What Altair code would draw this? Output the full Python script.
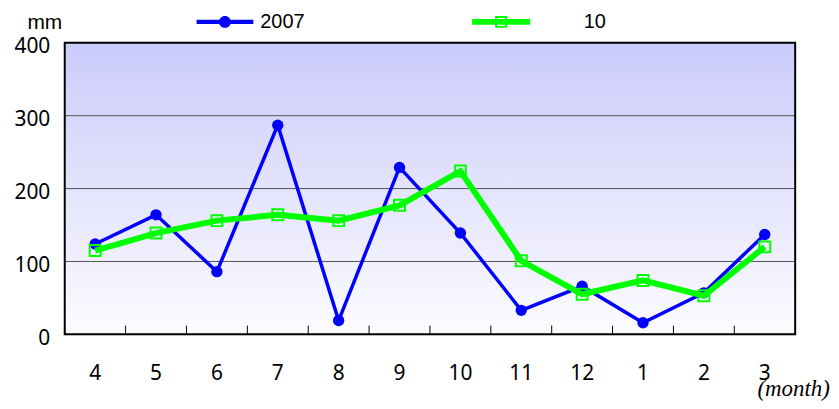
import altair as alt
import pandas as pd

MONTHS = ["4", "5", "6", "7", "8", "9", "10", "11", "12", "1", "2", "3"]
SERIES = ["2007", "10"]
VALUES_2007 = [124, 164, 86, 287, 19, 229, 139, 33, 66, 16, 57, 137]
VALUES_10 = [115, 139, 156, 164, 156, 177, 224, 101, 55, 74, 53, 120]
Y_TICKS = [0, 100, 200, 300, 400]
GRID = [100, 200, 300]

W, H = 734, 293
FONT = "Noto Sans"
TOPFONT = "Liberation Sans"

rows = []
for s, vals in zip(SERIES, [VALUES_2007, VALUES_10]):
    for m, v in zip(MONTHS, vals):
        rows.append({"month": m, "value": v, "series": s})
df = pd.DataFrame(rows)
months_df = pd.DataFrame({"month": MONTHS})
grid_df = pd.DataFrame({"v": GRID})

x_axis = alt.Axis(
    domain=False, ticks=False, grid=False, labelAngle=0, labelAlign="center",
    labelFont=FONT, labelFontSize=21, labelColor="#000",
    labelBaseline="middle", labelPadding=39,
    title="(month)", titleFont="Liberation Serif", titleFontStyle="italic",
    titleFontWeight="normal", titleFontSize=23, titleColor="#000",
    titleX=732, titleY=61, titleAlign="center", titleBaseline="alphabetic",
)
y_axis = alt.Axis(
    domain=False, ticks=False, grid=False, values=Y_TICKS,
    labelFont=FONT, labelFontSize=21, labelColor="#000",
    labelBaseline="middle", labelPadding=15, labelOffset=4,
    title="mm", titleAngle=0, titleX=-20.5, titleY=-14.5, titleAlign="center",
    titleBaseline="alphabetic", titleFont=TOPFONT, titleFontSize=21,
    titleFontWeight="normal", titleColor="#000",
)

X = alt.X("month:N", sort=MONTHS, axis=x_axis, scale=alt.Scale(paddingInner=0, paddingOuter=0))
Y = alt.Y("value:Q", axis=y_axis, scale=alt.Scale(domain=[0, 400], nice=False))

one = pd.DataFrame({"a": [0]})

bg = alt.Chart(one).mark_rect(
    fill=alt.LinearGradient(
        gradient="linear",
        stops=[alt.GradientStop(color="#cbcbfb", offset=0),
               alt.GradientStop(color="#fcfcff", offset=1)],
        x1=0, x2=0, y1=0, y2=1,
    )
).encode(x=alt.value(0), x2=alt.value(W), y=alt.value(0), y2=alt.value(H))

border = alt.Chart(one).mark_rect(
    fill="transparent", stroke="#000", strokeWidth=2
).encode(x=alt.value(0), x2=alt.value(W), y=alt.value(0), y2=alt.value(H))

grid = alt.Chart(grid_df).mark_rule(color="#555555", strokeWidth=1).encode(
    y=alt.Y("v:Q", scale=alt.Scale(domain=[0, 400], nice=False))
)

ticks = alt.Chart(months_df).mark_rule(color="#000", strokeWidth=1).encode(
    x=alt.X("month:N", sort=MONTHS, bandPosition=0),
    y=alt.datum(0), y2=alt.datum(12),
)

base = alt.Chart(df).encode(x=X, y=Y)

blue_line = base.transform_filter(alt.datum.series == "2007").mark_line(
    color="#0000FF", strokeWidth=3.5)
blue_pts = base.transform_filter(alt.datum.series == "2007").mark_point(
    shape="circle", filled=True, size=130, color="#0000FF", opacity=1)
green_line = base.transform_filter(alt.datum.series == "10").mark_line(
    color="#00FF00", strokeWidth=6)
green_pts = base.transform_filter(alt.datum.series == "10").mark_point(
    shape="square", filled=False, size=121, color="#00FF00", strokeWidth=2, opacity=1)

CIRCLE_SYM = ("M-4.75,-0.35H4.75V0.35H-4.75Z "
              "M-1,0A1,1 0 1,1 1,0A1,1 0 1,1 -1,0Z")
SQUARE_SYM = ("M-4.85,-0.5H4.85V0.5H-4.85Z "
              "M-1,-1H1V1H-1Z M-0.67,-0.67V0.67H0.67V-0.67Z")


def legend_for(x, offset):
    return alt.Legend(
        title=None, orient="none", legendX=x, legendY=-31, direction="horizontal",
        symbolSize=144, labelOffset=offset,
        labelFont=TOPFONT, labelFontSize=20, labelColor="#000", padding=0,
        symbolStrokeWidth=0, symbolOpacity=1,
    )


def legend_layer(name, color, sym, x, offset):
    lg = legend_for(x, offset)
    return alt.Chart(df).transform_filter("false").mark_point(filled=True, opacity=1).encode(
        x=X, y=Y,
        fill=alt.Fill("series:N", scale=alt.Scale(domain=[name], range=[color]), legend=lg),
        shape=alt.Shape("series:N", scale=alt.Scale(domain=[name], range=[sym]), legend=lg),
    )


leg_a = legend_layer(SERIES[0], "#0000FF", CIRCLE_SYM, 151, 25.5)
leg_b = legend_layer(SERIES[1], "#00FF00", SQUARE_SYM, 428.5, 73)

chart = alt.layer(
    bg, grid, ticks, blue_line, blue_pts, green_line, green_pts, border, leg_a, leg_b
).resolve_scale(fill="independent", shape="independent").resolve_legend(
    fill="independent", shape="independent"
).properties(
    width=W, height=H,
    autosize=alt.AutoSizeParams(type="none"),
    padding={"left": 57, "top": 34, "right": 36, "bottom": 66},
).configure_view(stroke=None).configure(background="white")

chart.save("out.html", embed_options={"renderer": "svg", "actions": False})
